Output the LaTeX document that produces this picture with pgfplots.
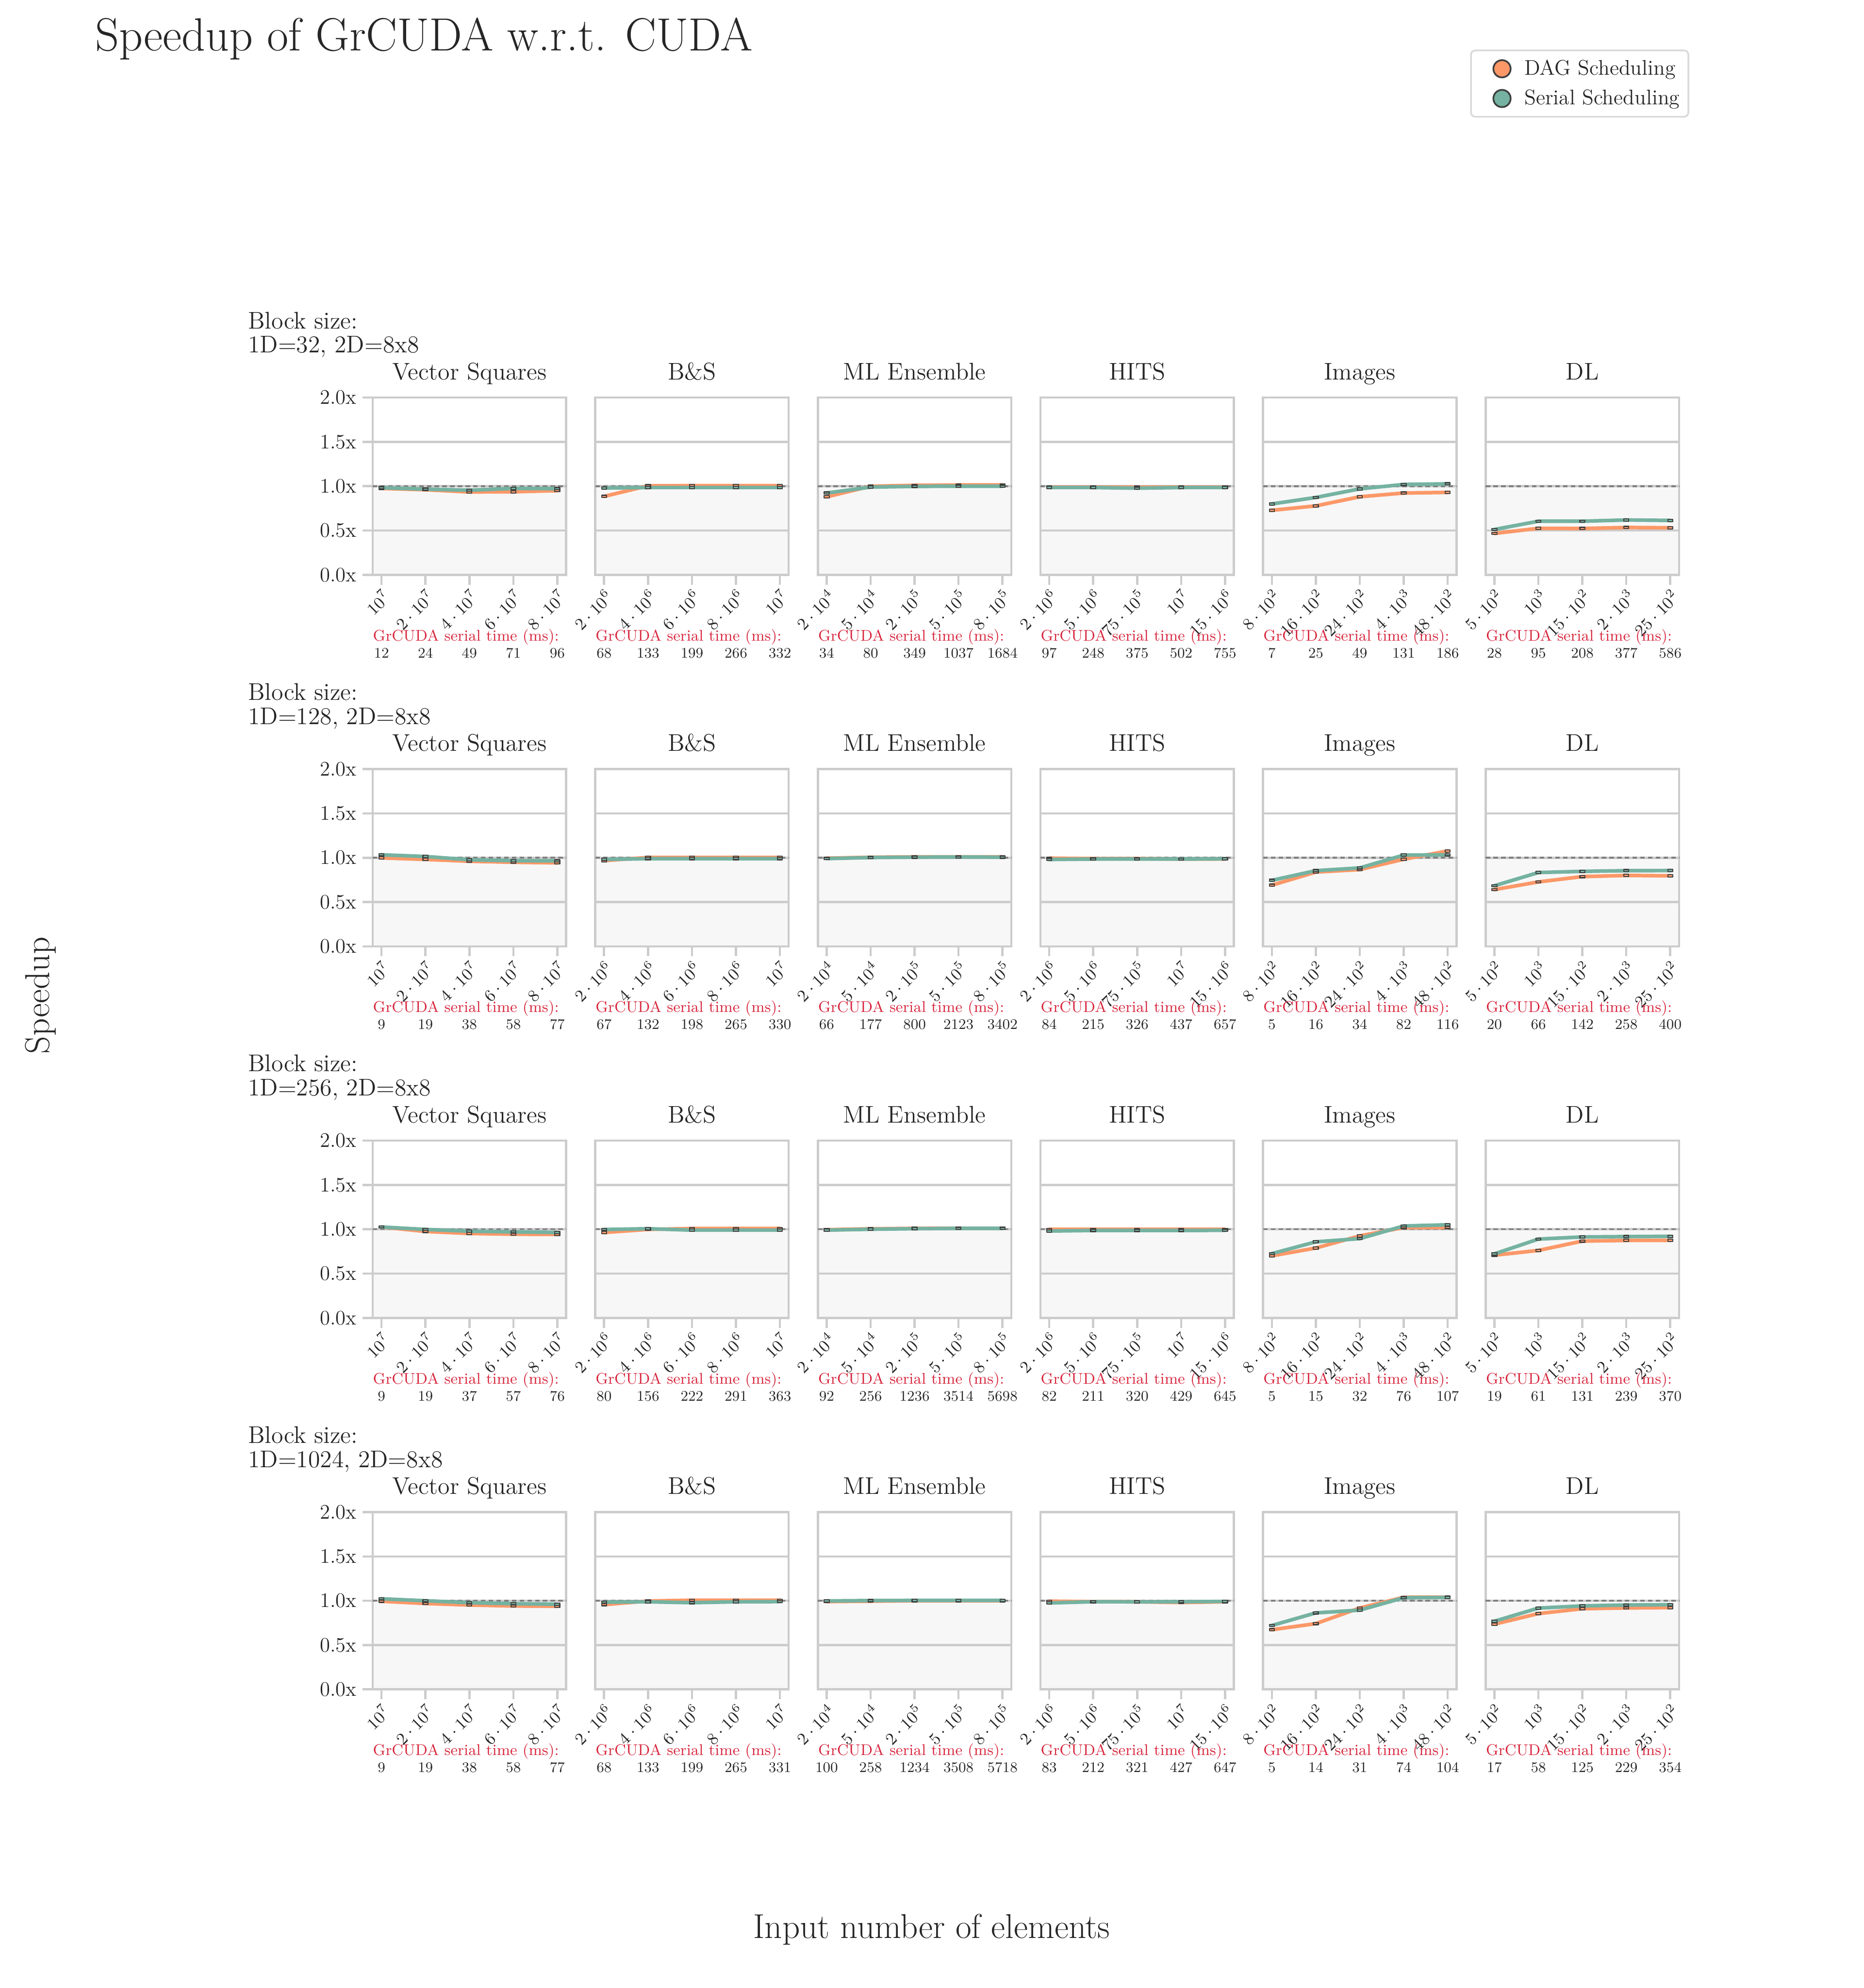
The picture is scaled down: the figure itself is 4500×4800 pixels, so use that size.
\RequirePackage{fix-cm}
\documentclass[border=0pt]{standalone}
\usepackage{fontspec}
\usepackage{pgfplots}
\pgfplotsset{compat=1.18}
\definecolor{dag}{HTML}{FC9868}
\definecolor{ser}{HTML}{75B2A1}
\definecolor{axisgrey}{HTML}{CCCCCC}
\definecolor{bggrey}{HTML}{F7F7F7}
\definecolor{refgrey}{HTML}{808080}
\definecolor{textdark}{HTML}{262626}
\definecolor{redtxt}{HTML}{D7263D}
\definecolor{markedge}{HTML}{3F3F3F}
\definecolor{legendgrey}{HTML}{D9D9D9}
\newcommand{\fs}[1]{\fontsize{#1}{#1}\selectfont}
\pgfplotsset{
 panel/.style={
   scale only axis, width=112.08pt, height=102.72pt,
   xmin=-0.2, xmax=4.2, ymin=0, ymax=2,
   xtick={0,1,2,3,4}, ytick={0,0.5,1,1.5,2},
   tick align=outside, tick pos=left,
   major tick length=5.8pt,
   tick style={axisgrey, line width=1.3pt},
   axis line style={axisgrey, line width=1.3pt},
   ymajorgrids, major grid style={axisgrey, line width=1.3pt},
   clip=false, set layers,
   xticklabel style={rotate=45, anchor=north east, font=\fs{9.8}, text=textdark, inner sep=1pt},
   yticklabel style={font=\fs{12}, text=textdark},
   every axis title/.style={at={(0.5,1)}, anchor=base, yshift=10.3pt, font=\fs{14}, text=textdark, inner sep=0pt},
 },
 firstcol/.style={yticklabels={0.0x,0.5x,1.0x,1.5x,2.0x}},
 othercol/.style={yticklabels={}, ytick align=inside},
 xlVS/.style={xticklabels={$10^{7}$,$2\cdot 10^{7}$,$4\cdot 10^{7}$,$6\cdot 10^{7}$,$8\cdot 10^{7}$}},
 xlBS/.style={xticklabels={$2\cdot 10^{6}$,$4\cdot 10^{6}$,$6\cdot 10^{6}$,$8\cdot 10^{6}$,$10^{7}$}},
 xlML/.style={xticklabels={$2\cdot 10^{4}$,$5\cdot 10^{4}$,$2\cdot 10^{5}$,$5\cdot 10^{5}$,$8\cdot 10^{5}$}},
 xlHI/.style={xticklabels={$2\cdot 10^{6}$,$5\cdot 10^{6}$,$75\cdot 10^{5}$,$10^{7}$,$15\cdot 10^{6}$}},
 xlIM/.style={xticklabels={$8\cdot 10^{2}$,$16\cdot 10^{2}$,$24\cdot 10^{2}$,$4\cdot 10^{3}$,$48\cdot 10^{2}$}},
 xlDL/.style={xticklabels={$5\cdot 10^{2}$,$10^{3}$,$15\cdot 10^{2}$,$2\cdot 10^{3}$,$25\cdot 10^{2}$}},
 dagline/.style={color=dag, line width=2.1pt, line join=round, line cap=round, mark=square*, mark size=1.45pt,
   mark options={fill=dag, draw=markedge, line width=0.6pt, yscale=0.45}},
 serline/.style={color=ser, line width=2.1pt, line join=round, line cap=round, mark=square*, mark size=1.45pt,
   mark options={fill=ser, draw=markedge, line width=0.6pt, yscale=0.45}},
 numlab/.style={draw=none, mark=none, forget plot, nodes near coords, point meta=explicit symbolic,
   every node near coord/.append style={anchor=base, yshift=-48.1pt, font=\fs{8.5}, text=textdark, inner sep=0pt}},
}
\newcommand{\panel}[8]{%
\pgfmathsetmacro{\px}{(900+537.5*#1)*0.24}%
\pgfmathsetmacro{\py}{(4800-1388-897*#2)*0.24}%
\begin{axis}[panel, #4, #8, at={(\px pt,\py pt)}, title={#3}]
\addplot[fill=bggrey, draw=none, forget plot, on layer=axis background] coordinates {(-0.2,0) (-0.2,1) (4.2,1) (4.2,0)};
\addplot[refgrey, line width=1.0pt, dash pattern=on 2.64pt off 1.84pt, forget plot] coordinates {(-0.2,1) (4.2,1)};
\addplot[dagline] coordinates {#5};
\addplot[serline] coordinates {#6};
\addplot[numlab] coordinates {#7};
\node[anchor=base west, font=\fs{9}, text=redtxt, inner sep=0pt, yshift=-38.2pt] at (rel axis cs:0,0) {GrCUDA serial time (ms):};
\end{axis}}
\begin{document}
\begin{tikzpicture}
\begin{scope}[x=0.24pt, y=0.24pt]
\path[use as bounding box] (0,0) rectangle (4500,4800);
\end{scope}
% ---------- Row 0: block 32
\panel{0}{0}{Vector Squares}{xlVS}{(0,0.975)(1,0.96)(2,0.935)(3,0.937)(4,0.95)}{(0,0.983)(1,0.967)(2,0.955)(3,0.975)(4,0.972)}{(0,0)[12](1,0)[24](2,0)[49](3,0)[71](4,0)[96]}{firstcol}
\panel{1}{0}{B\&S}{xlBS}{(0,0.885)(1,1.005)(2,1.006)(3,1.006)(4,1.006)}{(0,0.98)(1,0.985)(2,0.985)(3,0.985)(4,0.985)}{(0,0)[68](1,0)[133](2,0)[199](3,0)[266](4,0)[332]}{othercol}
\panel{2}{0}{ML Ensemble}{xlML}{(0,0.88)(1,1.0)(2,1.01)(3,1.014)(4,1.014)}{(0,0.923)(1,0.99)(2,0.998)(3,1.0)(4,1.0)}{(0,0)[34](1,0)[80](2,0)[349](3,0)[1037](4,0)[1684]}{othercol}
\panel{3}{0}{HITS}{xlHI}{(0,0.99)(1,0.99)(2,0.99)(3,0.99)(4,0.99)}{(0,0.985)(1,0.985)(2,0.978)(3,0.985)(4,0.985)}{(0,0)[97](1,0)[248](2,0)[375](3,0)[502](4,0)[755]}{othercol}
\panel{4}{0}{Images}{xlIM}{(0,0.728)(1,0.778)(2,0.881)(3,0.923)(4,0.93)}{(0,0.80)(1,0.873)(2,0.97)(3,1.02)(4,1.027)}{(0,0)[7](1,0)[25](2,0)[49](3,0)[131](4,0)[186]}{othercol}
\panel{5}{0}{DL}{xlDL}{(0,0.467)(1,0.525)(2,0.523)(3,0.534)(4,0.531)}{(0,0.512)(1,0.605)(2,0.605)(3,0.619)(4,0.614)}{(0,0)[28](1,0)[95](2,0)[208](3,0)[377](4,0)[586]}{othercol}
% ---------- Row 1: block 128
\panel{0}{1}{Vector Squares}{xlVS}{(0,0.998)(1,0.981)(2,0.96)(3,0.949)(4,0.942)}{(0,1.033)(1,1.014)(2,0.977)(3,0.967)(4,0.964)}{(0,0)[9](1,0)[19](2,0)[38](3,0)[58](4,0)[77]}{firstcol}
\panel{1}{1}{B\&S}{xlBS}{(0,0.967)(1,1.003)(2,1.003)(3,1.003)(4,1.003)}{(0,0.981)(1,0.989)(2,0.989)(3,0.989)(4,0.989)}{(0,0)[67](1,0)[132](2,0)[198](3,0)[265](4,0)[330]}{othercol}
\panel{2}{1}{ML Ensemble}{xlML}{(0,0.995)(1,1.005)(2,1.01)(3,1.01)(4,1.01)}{(0,0.99)(1,1.002)(2,1.006)(3,1.008)(4,1.006)}{(0,0)[66](1,0)[177](2,0)[800](3,0)[2123](4,0)[3402]}{othercol}
\panel{3}{1}{HITS}{xlHI}{(0,0.995)(1,0.99)(2,0.99)(3,0.985)(4,0.985)}{(0,0.98)(1,0.985)(2,0.985)(3,0.985)(4,0.988)}{(0,0)[84](1,0)[215](2,0)[326](3,0)[437](4,0)[657]}{othercol}
\panel{4}{1}{Images}{xlIM}{(0,0.69)(1,0.838)(2,0.866)(3,0.983)(4,1.076)}{(0,0.745)(1,0.854)(2,0.885)(3,1.03)(4,1.033)}{(0,0)[5](1,0)[16](2,0)[34](3,0)[82](4,0)[116]}{othercol}
\panel{5}{1}{DL}{xlDL}{(0,0.64)(1,0.727)(2,0.787)(3,0.80)(4,0.796)}{(0,0.684)(1,0.833)(2,0.846)(3,0.854)(4,0.855)}{(0,0)[20](1,0)[66](2,0)[142](3,0)[258](4,0)[400]}{othercol}
% ---------- Row 2: block 256
\panel{0}{2}{Vector Squares}{xlVS}{(0,1.025)(1,0.975)(2,0.952)(3,0.944)(4,0.942)}{(0,1.025)(1,0.998)(2,0.978)(3,0.97)(4,0.964)}{(0,0)[9](1,0)[19](2,0)[37](3,0)[57](4,0)[76]}{firstcol}
\panel{1}{2}{B\&S}{xlBS}{(0,0.963)(1,0.998)(2,1.008)(3,1.008)(4,1.008)}{(0,0.997)(1,1.006)(2,0.99)(3,0.99)(4,0.99)}{(0,0)[80](1,0)[156](2,0)[222](3,0)[291](4,0)[363]}{othercol}
\panel{2}{2}{ML Ensemble}{xlML}{(0,0.995)(1,1.005)(2,1.01)(3,1.012)(4,1.012)}{(0,0.99)(1,1.0)(2,1.006)(3,1.01)(4,1.01)}{(0,0)[92](1,0)[256](2,0)[1236](3,0)[3514](4,0)[5698]}{othercol}
\panel{3}{2}{HITS}{xlHI}{(0,0.997)(1,0.997)(2,0.997)(3,0.997)(4,0.997)}{(0,0.98)(1,0.986)(2,0.986)(3,0.986)(4,0.988)}{(0,0)[82](1,0)[211](2,0)[320](3,0)[429](4,0)[645]}{othercol}
\panel{4}{2}{Images}{xlIM}{(0,0.70)(1,0.788)(2,0.925)(3,1.019)(4,1.019)}{(0,0.725)(1,0.858)(2,0.894)(3,1.037)(4,1.05)}{(0,0)[5](1,0)[15](2,0)[32](3,0)[76](4,0)[107]}{othercol}
\panel{5}{2}{DL}{xlDL}{(0,0.707)(1,0.761)(2,0.866)(3,0.874)(4,0.875)}{(0,0.722)(1,0.889)(2,0.913)(3,0.917)(4,0.92)}{(0,0)[19](1,0)[61](2,0)[131](3,0)[239](4,0)[370]}{othercol}
% ---------- Row 3: block 1024
\panel{0}{3}{Vector Squares}{xlVS}{(0,0.994)(1,0.969)(2,0.952)(3,0.941)(4,0.938)}{(0,1.022)(1,1.0)(2,0.978)(3,0.967)(4,0.961)}{(0,0)[9](1,0)[19](2,0)[38](3,0)[58](4,0)[77]}{firstcol}
\panel{1}{3}{B\&S}{xlBS}{(0,0.956)(1,0.997)(2,1.006)(3,1.006)(4,1.006)}{(0,0.984)(1,0.988)(2,0.978)(3,0.988)(4,0.99)}{(0,0)[68](1,0)[133](2,0)[199](3,0)[265](4,0)[331]}{othercol}
\panel{2}{3}{ML Ensemble}{xlML}{(0,0.99)(1,0.995)(2,1.0)(3,1.0)(4,1.0)}{(0,0.998)(1,1.002)(2,1.004)(3,1.004)(4,1.004)}{(0,0)[100](1,0)[258](2,0)[1234](3,0)[3508](4,0)[5718]}{othercol}
\panel{3}{3}{HITS}{xlHI}{(0,0.995)(1,0.99)(2,0.988)(3,0.98)(4,0.988)}{(0,0.975)(1,0.989)(2,0.988)(3,0.989)(4,0.992)}{(0,0)[83](1,0)[212](2,0)[321](3,0)[427](4,0)[647]}{othercol}
\panel{4}{3}{Images}{xlIM}{(0,0.673)(1,0.742)(2,0.918)(3,1.039)(4,1.04)}{(0,0.721)(1,0.863)(2,0.894)(3,1.034)(4,1.037)}{(0,0)[5](1,0)[14](2,0)[31](3,0)[74](4,0)[104]}{othercol}
\panel{5}{3}{DL}{xlDL}{(0,0.736)(1,0.855)(2,0.91)(3,0.919)(4,0.922)}{(0,0.769)(1,0.917)(2,0.942)(3,0.952)(4,0.955)}{(0,0)[17](1,0)[58](2,0)[125](3,0)[229](4,0)[354]}{othercol}
% ---------- Legend
\begin{axis}[hide axis, scale only axis, width=10pt, height=10pt, xmin=0, xmax=1, ymin=0, ymax=1,
  at={(852pt,1113.3pt)},
  legend style={at={(0,1)}, anchor=north west, draw=legendgrey, line width=1pt, rounded corners=2.5pt,
    fill=white, font=\fs{12.3}, text=textdark, row sep=3pt, inner xsep=3pt, inner ysep=3.5pt},
  legend cell align=left]
\addlegendimage{legend image code/.code={\path[draw=none] (0pt,0pt) -- (26pt,0pt); \draw[fill=dag, draw=markedge, line width=1pt] (15pt,0pt) circle (5pt);}}
\addlegendentry{DAG Scheduling}
\addlegendimage{legend image code/.code={\path[draw=none] (0pt,0pt) -- (26pt,0pt); \draw[fill=ser, draw=markedge, line width=1pt] (15pt,0pt) circle (5pt);}}
\addlegendentry{Serial Scheduling}
\end{axis}
% ---------- Texts
\begin{scope}[x=0.24pt, y=0.24pt]
\node[anchor=base west, font=\fs{27}, text=textdark, inner sep=0pt] at (229,4677) {Speedup of GrCUDA w.r.t. CUDA};
\node[rotate=90, font=\fs{20}, text=textdark, inner sep=0pt] at (98,2397) {Speedup};
\node[anchor=base, font=\fs{20}, text=textdark, inner sep=0pt] at (2250,120) {Input number of elements};
\node[anchor=base west, font=\fs{14}, text=textdark, inner sep=0pt] at (598.5,4006.5) {Block size:};
\node[anchor=base west, font=\fs{14}, text=textdark, inner sep=0pt] at (598.5,3948) {1D=32, 2D=8x8};
\node[anchor=base west, font=\fs{14}, text=textdark, inner sep=0pt] at (598.5,3109.5) {Block size:};
\node[anchor=base west, font=\fs{14}, text=textdark, inner sep=0pt] at (598.5,3051) {1D=128, 2D=8x8};
\node[anchor=base west, font=\fs{14}, text=textdark, inner sep=0pt] at (598.5,2212.5) {Block size:};
\node[anchor=base west, font=\fs{14}, text=textdark, inner sep=0pt] at (598.5,2154) {1D=256, 2D=8x8};
\node[anchor=base west, font=\fs{14}, text=textdark, inner sep=0pt] at (598.5,1315.5) {Block size:};
\node[anchor=base west, font=\fs{14}, text=textdark, inner sep=0pt] at (598.5,1257) {1D=1024, 2D=8x8};
\end{scope}
\end{tikzpicture}
\end{document}
